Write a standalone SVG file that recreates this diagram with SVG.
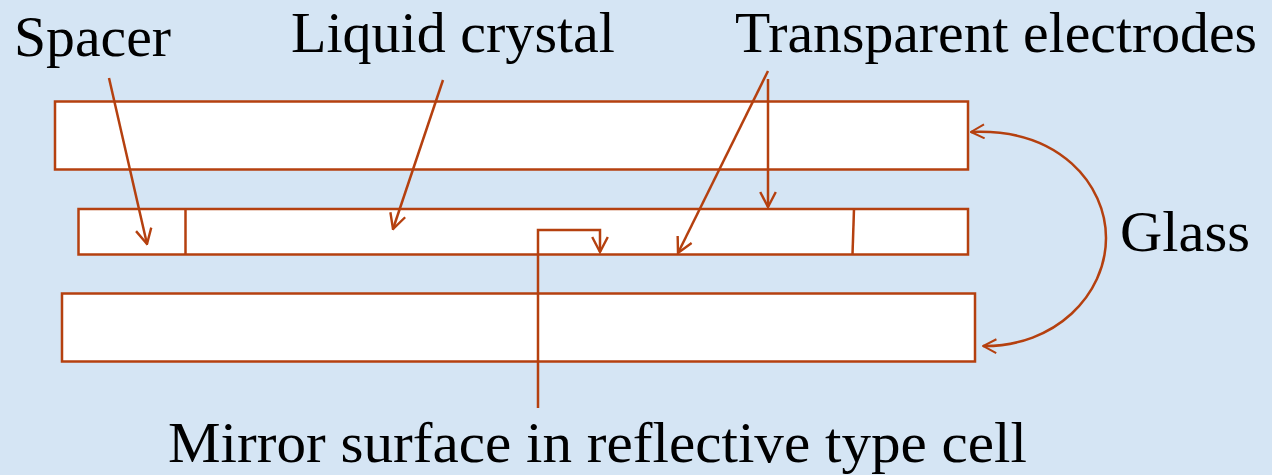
<svg xmlns="http://www.w3.org/2000/svg" width="1272" height="475" viewBox="0 0 1272 475">
<defs>
<style>
.box{fill:#ffffff;stroke:#b5400f;stroke-width:2.5}
.ln{fill:none;stroke:#b5400f;stroke-width:2.5}
.lbl{font-family:"Liberation Serif","Times New Roman",serif;font-size:58px;fill:#000}
</style>
<marker id="ah" viewBox="0 0 12 12" refX="11" refY="6" markerWidth="18" markerHeight="18" markerUnits="userSpaceOnUse" orient="auto">
<path d="M1,0.8 L11,6 L1,11.2" fill="none" stroke="#b5400f" stroke-width="1.6"/>
</marker>
<marker id="ahs" viewBox="0 0 12 12" refX="11" refY="6" markerWidth="16" markerHeight="16" markerUnits="userSpaceOnUse" orient="auto-start-reverse">
<path d="M1,0.8 L11,6 L1,11.2" fill="none" stroke="#b5400f" stroke-width="1.5"/>
</marker>
</defs>
<rect width="1272" height="475" fill="#d5e5f4"/>
<g id="glass-top"><rect class="box" x="55" y="101.5" width="913" height="68"/></g>
<g id="cell"><rect class="box" x="78.5" y="209" width="889.5" height="45.5"/>
<line class="ln" x1="185.5" y1="209" x2="185.5" y2="254.5"/>
<line class="ln" x1="854" y1="209" x2="852.5" y2="254.5"/></g>
<g id="glass-bottom"><rect class="box" x="62" y="293.5" width="913" height="68"/></g>
<g id="labels">
<text class="lbl" x="14" y="56" textLength="157" lengthAdjust="spacingAndGlyphs">Spacer</text>
<text class="lbl" x="291" y="52" textLength="324" lengthAdjust="spacingAndGlyphs">Liquid crystal</text>
<text class="lbl" x="735" y="52" textLength="522" lengthAdjust="spacingAndGlyphs">Transparent electrodes</text>
<text class="lbl" x="1120" y="251" textLength="130" lengthAdjust="spacingAndGlyphs">Glass</text>
<text class="lbl" x="168" y="462" textLength="859" lengthAdjust="spacingAndGlyphs">Mirror surface in reflective type cell</text>
</g>
<g id="connectors">
<line class="ln" x1="109" y1="78" x2="147" y2="244" marker-end="url(#ah)"/>
<line class="ln" x1="443" y1="80" x2="393" y2="229" marker-end="url(#ah)"/>
<line class="ln" x1="768" y1="71" x2="678" y2="253" marker-end="url(#ah)"/>
<line class="ln" x1="768" y1="79" x2="768" y2="207" marker-end="url(#ah)"/>
<polyline class="ln" points="538,408 538,230 600,230 600,252" marker-end="url(#ah)"/>
<path class="ln" stroke-width="1.8" d="M971,132 C1060,128 1106,185 1106,238 C1106,295 1055,347 983,346" marker-start="url(#ahs)" marker-end="url(#ahs)"/>
</g>
</svg>
